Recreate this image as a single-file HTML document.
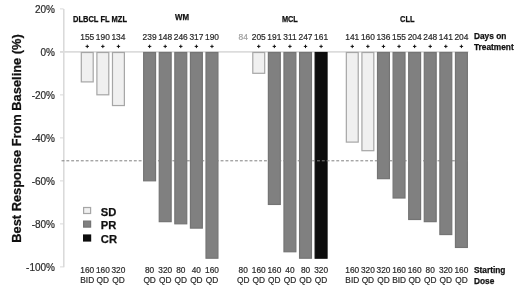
<!DOCTYPE html>
<html><head><meta charset="utf-8"><style>
html,body{margin:0;padding:0;background:#fff;}
svg{display:block;filter:grayscale(1);}
text{font-family:"Liberation Sans",sans-serif;}
.yl{font-size:10px;fill:#2a2a2a;stroke:#2a2a2a;stroke-width:0.2px;}
.tl{font-size:8.4px;fill:#2a2a2a;stroke:#2a2a2a;stroke-width:0.2px;}
.g{fill:#a0a0a0;stroke:#a0a0a0;}
.bl{font-size:8.3px;fill:#2a2a2a;stroke:#2a2a2a;stroke-width:0.2px;}
.gl{font-size:8.3px;font-weight:bold;fill:#111;stroke:#111;stroke-width:0.25px;}
.rl{font-size:8.3px;font-weight:bold;fill:#111;stroke:#111;stroke-width:0.25px;}
.lg{font-size:11.2px;font-weight:bold;fill:#111;stroke:#111;stroke-width:0.25px;}
.yt{font-size:12.4px;font-weight:bold;fill:#111;stroke:#111;stroke-width:0.25px;}
</style></head><body>
<svg width="520" height="291" viewBox="0 0 520 291">
<rect width="520" height="291" fill="#fff"/>
<line x1="63.8" y1="9" x2="63.8" y2="267.2" stroke="#d9d9d9" stroke-width="1.5"/>
<line x1="60" y1="8.90" x2="63.6" y2="8.90" stroke="#d8d8d8" stroke-width="1"/>
<text x="55" y="12.50" text-anchor="end" class="yl">20%</text>
<line x1="60" y1="51.90" x2="63.6" y2="51.90" stroke="#d8d8d8" stroke-width="1"/>
<text x="55" y="55.50" text-anchor="end" class="yl">0%</text>
<line x1="60" y1="94.90" x2="63.6" y2="94.90" stroke="#d8d8d8" stroke-width="1"/>
<text x="55" y="98.50" text-anchor="end" class="yl">-20%</text>
<line x1="60" y1="137.90" x2="63.6" y2="137.90" stroke="#d8d8d8" stroke-width="1"/>
<text x="55" y="141.50" text-anchor="end" class="yl">-40%</text>
<line x1="60" y1="180.90" x2="63.6" y2="180.90" stroke="#d8d8d8" stroke-width="1"/>
<text x="55" y="184.50" text-anchor="end" class="yl">-60%</text>
<line x1="60" y1="223.90" x2="63.6" y2="223.90" stroke="#d8d8d8" stroke-width="1"/>
<text x="55" y="227.50" text-anchor="end" class="yl">-80%</text>
<line x1="60" y1="266.90" x2="63.6" y2="266.90" stroke="#d8d8d8" stroke-width="1"/>
<text x="55" y="270.50" text-anchor="end" class="yl">-100%</text>
<line x1="60" y1="51.9" x2="468.36" y2="51.9" stroke="#dcdcdc" stroke-width="1.6"/>
<rect x="81.30" y="52.50" width="11.90" height="29.40" fill="#f0f0f0" stroke="#a6a6a6" stroke-width="1.2"/>
<rect x="96.89" y="52.50" width="11.90" height="42.30" fill="#f0f0f0" stroke="#a6a6a6" stroke-width="1.2"/>
<rect x="112.48" y="52.50" width="11.90" height="53.05" fill="#f0f0f0" stroke="#a6a6a6" stroke-width="1.2"/>
<rect x="143.66" y="52.50" width="11.90" height="128.30" fill="#808080" stroke="#747474" stroke-width="1.2"/>
<rect x="159.25" y="52.50" width="11.90" height="169.15" fill="#808080" stroke="#747474" stroke-width="1.2"/>
<rect x="174.84" y="52.50" width="11.90" height="171.30" fill="#808080" stroke="#747474" stroke-width="1.2"/>
<rect x="190.43" y="52.50" width="11.90" height="175.60" fill="#808080" stroke="#747474" stroke-width="1.2"/>
<rect x="206.02" y="52.50" width="11.90" height="205.70" fill="#808080" stroke="#747474" stroke-width="1.2"/>
<rect x="252.79" y="52.50" width="11.90" height="20.80" fill="#f0f0f0" stroke="#a6a6a6" stroke-width="1.2"/>
<rect x="268.38" y="52.50" width="11.90" height="151.95" fill="#808080" stroke="#747474" stroke-width="1.2"/>
<rect x="283.97" y="52.50" width="11.90" height="199.25" fill="#808080" stroke="#747474" stroke-width="1.2"/>
<rect x="299.56" y="52.50" width="11.90" height="205.70" fill="#808080" stroke="#747474" stroke-width="1.2"/>
<rect x="315.15" y="52.50" width="11.90" height="205.70" fill="#0d0d0d" stroke="#0d0d0d" stroke-width="1.2"/>
<rect x="346.33" y="52.50" width="11.90" height="89.60" fill="#f0f0f0" stroke="#a6a6a6" stroke-width="1.2"/>
<rect x="361.92" y="52.50" width="11.90" height="98.20" fill="#f0f0f0" stroke="#a6a6a6" stroke-width="1.2"/>
<rect x="377.51" y="52.50" width="11.90" height="126.15" fill="#808080" stroke="#747474" stroke-width="1.2"/>
<rect x="393.10" y="52.50" width="11.90" height="145.50" fill="#808080" stroke="#747474" stroke-width="1.2"/>
<rect x="408.69" y="52.50" width="11.90" height="167.00" fill="#808080" stroke="#747474" stroke-width="1.2"/>
<rect x="424.28" y="52.50" width="11.90" height="169.15" fill="#808080" stroke="#747474" stroke-width="1.2"/>
<rect x="439.87" y="52.50" width="11.90" height="182.05" fill="#808080" stroke="#747474" stroke-width="1.2"/>
<rect x="455.46" y="52.50" width="11.90" height="194.95" fill="#808080" stroke="#747474" stroke-width="1.2"/>
<line x1="61.55" y1="160.8" x2="467.86" y2="160.8" stroke="#808080" stroke-width="1" stroke-dasharray="2.9 1.92"/>
<text x="87.25" y="39.6" text-anchor="middle" class="tl">155</text>
<path d="M85.55 46.4h3.4M87.25 44.7v3.4" stroke="#111" stroke-width="1"/>
<text x="102.84" y="39.6" text-anchor="middle" class="tl">190</text>
<path d="M101.14 46.4h3.4M102.84 44.7v3.4" stroke="#111" stroke-width="1"/>
<text x="118.43" y="39.6" text-anchor="middle" class="tl">134</text>
<path d="M116.73 46.4h3.4M118.43 44.7v3.4" stroke="#111" stroke-width="1"/>
<text x="149.61" y="39.6" text-anchor="middle" class="tl">239</text>
<path d="M147.91 46.4h3.4M149.61 44.7v3.4" stroke="#111" stroke-width="1"/>
<text x="165.20" y="39.6" text-anchor="middle" class="tl">148</text>
<path d="M163.50 46.4h3.4M165.20 44.7v3.4" stroke="#111" stroke-width="1"/>
<text x="180.79" y="39.6" text-anchor="middle" class="tl">246</text>
<path d="M179.09 46.4h3.4M180.79 44.7v3.4" stroke="#111" stroke-width="1"/>
<text x="196.38" y="39.6" text-anchor="middle" class="tl">317</text>
<path d="M194.68 46.4h3.4M196.38 44.7v3.4" stroke="#111" stroke-width="1"/>
<text x="211.97" y="39.6" text-anchor="middle" class="tl">190</text>
<path d="M210.27 46.4h3.4M211.97 44.7v3.4" stroke="#111" stroke-width="1"/>
<text x="243.15" y="39.6" text-anchor="middle" class="tl g">84</text>
<text x="258.74" y="39.6" text-anchor="middle" class="tl">205</text>
<path d="M257.04 46.4h3.4M258.74 44.7v3.4" stroke="#111" stroke-width="1"/>
<text x="274.33" y="39.6" text-anchor="middle" class="tl">191</text>
<path d="M272.63 46.4h3.4M274.33 44.7v3.4" stroke="#111" stroke-width="1"/>
<text x="289.92" y="39.6" text-anchor="middle" class="tl">311</text>
<path d="M288.22 46.4h3.4M289.92 44.7v3.4" stroke="#111" stroke-width="1"/>
<text x="305.51" y="39.6" text-anchor="middle" class="tl">247</text>
<path d="M303.81 46.4h3.4M305.51 44.7v3.4" stroke="#111" stroke-width="1"/>
<text x="321.10" y="39.6" text-anchor="middle" class="tl">161</text>
<path d="M319.40 46.4h3.4M321.10 44.7v3.4" stroke="#111" stroke-width="1"/>
<text x="352.28" y="39.6" text-anchor="middle" class="tl">141</text>
<path d="M350.58 46.4h3.4M352.28 44.7v3.4" stroke="#111" stroke-width="1"/>
<text x="367.87" y="39.6" text-anchor="middle" class="tl">160</text>
<path d="M366.17 46.4h3.4M367.87 44.7v3.4" stroke="#111" stroke-width="1"/>
<text x="383.46" y="39.6" text-anchor="middle" class="tl">136</text>
<path d="M381.76 46.4h3.4M383.46 44.7v3.4" stroke="#111" stroke-width="1"/>
<text x="399.05" y="39.6" text-anchor="middle" class="tl">155</text>
<path d="M397.35 46.4h3.4M399.05 44.7v3.4" stroke="#111" stroke-width="1"/>
<text x="414.64" y="39.6" text-anchor="middle" class="tl">204</text>
<path d="M412.94 46.4h3.4M414.64 44.7v3.4" stroke="#111" stroke-width="1"/>
<text x="430.23" y="39.6" text-anchor="middle" class="tl">248</text>
<path d="M428.53 46.4h3.4M430.23 44.7v3.4" stroke="#111" stroke-width="1"/>
<text x="445.82" y="39.6" text-anchor="middle" class="tl">141</text>
<path d="M444.12 46.4h3.4M445.82 44.7v3.4" stroke="#111" stroke-width="1"/>
<text x="461.41" y="39.6" text-anchor="middle" class="tl">204</text>
<path d="M459.71 46.4h3.4M461.41 44.7v3.4" stroke="#111" stroke-width="1"/>
<text x="87.25" y="273.3" text-anchor="middle" class="bl">160</text>
<text x="87.25" y="282.8" text-anchor="middle" class="bl">BID</text>
<text x="102.84" y="273.3" text-anchor="middle" class="bl">160</text>
<text x="102.84" y="282.8" text-anchor="middle" class="bl">QD</text>
<text x="118.43" y="273.3" text-anchor="middle" class="bl">320</text>
<text x="118.43" y="282.8" text-anchor="middle" class="bl">QD</text>
<text x="149.61" y="273.3" text-anchor="middle" class="bl">80</text>
<text x="149.61" y="282.8" text-anchor="middle" class="bl">QD</text>
<text x="165.20" y="273.3" text-anchor="middle" class="bl">320</text>
<text x="165.20" y="282.8" text-anchor="middle" class="bl">QD</text>
<text x="180.79" y="273.3" text-anchor="middle" class="bl">80</text>
<text x="180.79" y="282.8" text-anchor="middle" class="bl">QD</text>
<text x="196.38" y="273.3" text-anchor="middle" class="bl">40</text>
<text x="196.38" y="282.8" text-anchor="middle" class="bl">QD</text>
<text x="211.97" y="273.3" text-anchor="middle" class="bl">160</text>
<text x="211.97" y="282.8" text-anchor="middle" class="bl">QD</text>
<text x="243.15" y="273.3" text-anchor="middle" class="bl">80</text>
<text x="243.15" y="282.8" text-anchor="middle" class="bl">QD</text>
<text x="258.74" y="273.3" text-anchor="middle" class="bl">160</text>
<text x="258.74" y="282.8" text-anchor="middle" class="bl">QD</text>
<text x="274.33" y="273.3" text-anchor="middle" class="bl">160</text>
<text x="274.33" y="282.8" text-anchor="middle" class="bl">QD</text>
<text x="289.92" y="273.3" text-anchor="middle" class="bl">40</text>
<text x="289.92" y="282.8" text-anchor="middle" class="bl">QD</text>
<text x="305.51" y="273.3" text-anchor="middle" class="bl">80</text>
<text x="305.51" y="282.8" text-anchor="middle" class="bl">QD</text>
<text x="321.10" y="273.3" text-anchor="middle" class="bl">320</text>
<text x="321.10" y="282.8" text-anchor="middle" class="bl">QD</text>
<text x="352.28" y="273.3" text-anchor="middle" class="bl">160</text>
<text x="352.28" y="282.8" text-anchor="middle" class="bl">BID</text>
<text x="367.87" y="273.3" text-anchor="middle" class="bl">320</text>
<text x="367.87" y="282.8" text-anchor="middle" class="bl">QD</text>
<text x="383.46" y="273.3" text-anchor="middle" class="bl">320</text>
<text x="383.46" y="282.8" text-anchor="middle" class="bl">QD</text>
<text x="399.05" y="273.3" text-anchor="middle" class="bl">160</text>
<text x="399.05" y="282.8" text-anchor="middle" class="bl">BID</text>
<text x="414.64" y="273.3" text-anchor="middle" class="bl">160</text>
<text x="414.64" y="282.8" text-anchor="middle" class="bl">QD</text>
<text x="430.23" y="273.3" text-anchor="middle" class="bl">80</text>
<text x="430.23" y="282.8" text-anchor="middle" class="bl">QD</text>
<text x="445.82" y="273.3" text-anchor="middle" class="bl">320</text>
<text x="445.82" y="282.8" text-anchor="middle" class="bl">QD</text>
<text x="461.41" y="273.3" text-anchor="middle" class="bl">160</text>
<text x="461.41" y="282.8" text-anchor="middle" class="bl">QD</text>
<text x="73" y="21.6" class="gl" textLength="54" lengthAdjust="spacingAndGlyphs">DLBCL FL MZL</text>
<text x="175" y="20" class="gl" textLength="14" lengthAdjust="spacingAndGlyphs">WM</text>
<text x="281.9" y="21.6" class="gl" textLength="16" lengthAdjust="spacingAndGlyphs">MCL</text>
<text x="400" y="21.7" class="gl" textLength="14.5" lengthAdjust="spacingAndGlyphs">CLL</text>
<text x="474" y="39.2" class="rl">Days on</text>
<text x="474" y="49.6" class="rl">Treatment</text>
<text x="474" y="273.2" class="rl">Starting</text>
<text x="474" y="283.6" class="rl">Dose</text>
<rect x="83.6" y="207.5" width="7" height="6" fill="#f0f0f0" stroke="#a6a6a6" stroke-width="1.2"/>
<text x="100.8" y="216.2" class="lg">SD</text>
<rect x="83.6" y="221.1" width="7" height="6" fill="#808080" stroke="#747474" stroke-width="1.2"/>
<text x="100.8" y="229.4" class="lg">PR</text>
<rect x="83.6" y="235.0" width="7" height="6" fill="#0d0d0d" stroke="#0d0d0d" stroke-width="1.2"/>
<text x="100.8" y="242.6" class="lg">CR</text>
<text transform="translate(21.2,138.5) rotate(-90)" text-anchor="middle" class="yt" textLength="208.5" lengthAdjust="spacingAndGlyphs">Best Response From Baseline (%)</text>
</svg>
</body></html>
